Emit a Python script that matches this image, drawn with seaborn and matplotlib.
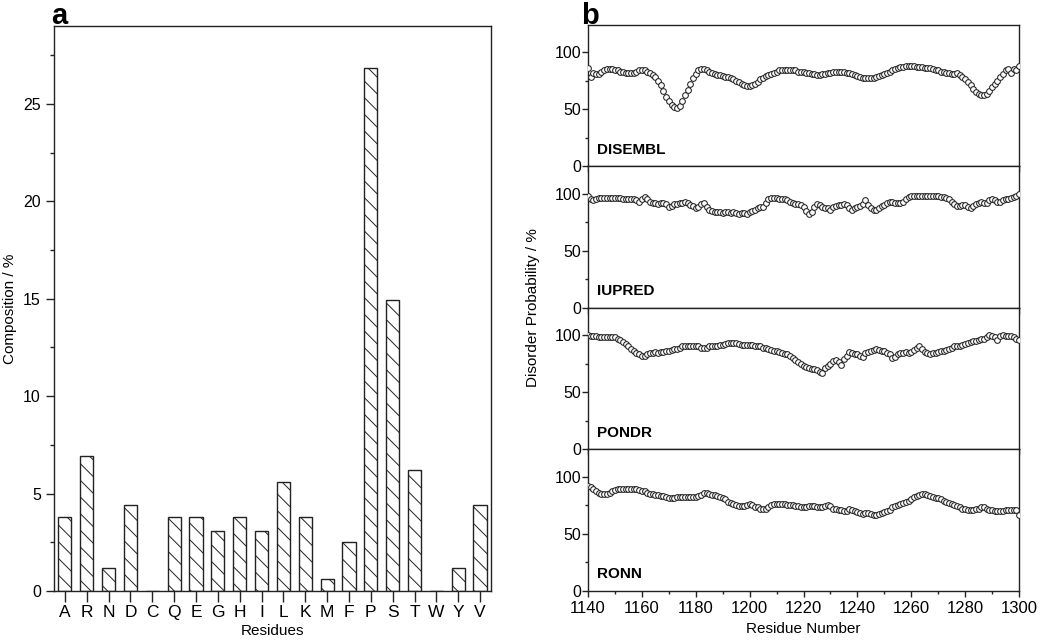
import numpy as np
import pandas as pd
import matplotlib
matplotlib.use("Agg")
import matplotlib.pyplot as plt
from matplotlib.ticker import MultipleLocator
import seaborn as sns

# ---------------- data ----------------
residues = ["A", "R", "N", "D", "C", "Q", "E", "G", "H", "I",
            "L", "K", "M", "F", "P", "S", "T", "W", "Y", "V"]
composition = [3.78, 6.93, 1.17, 4.40, 0.0, 3.78, 3.78, 3.07, 3.78, 3.07,
               5.59, 3.78, 0.60, 2.50, 26.83, 14.96, 6.22, 0.0, 1.17, 4.40]

residue_start = 1140
residue_end = 1300

disembl = [86, 78, 82, 81, 81, 83, 84, 85, 85, 85,
           84, 84, 83, 83, 82, 82, 82, 82, 83, 84,
           84, 84, 83, 82, 80, 78, 75, 71, 66, 61,
           57, 54, 52, 51, 53, 57, 62, 67, 72, 77,
           81, 84, 85, 85, 84, 83, 82, 81, 80, 80,
           79, 78, 78, 77, 76, 75, 74, 72, 71, 70,
           70, 71, 72, 74, 76, 77, 79, 80, 81, 82,
           83, 84, 84, 84, 84, 84, 84, 84, 83, 83,
           83, 82, 82, 81, 81, 80, 80, 81, 81, 82,
           82, 83, 83, 83, 83, 83, 82, 82, 81, 80,
           79, 78, 77, 77, 77, 77, 77, 78, 79, 80,
           81, 82, 83, 84, 85, 86, 87, 87, 88, 88,
           88, 88, 87, 87, 87, 86, 86, 86, 85, 84,
           84, 83, 83, 82, 82, 81, 81, 82, 80, 78,
           76, 74, 71, 68, 65, 63, 62, 62, 63, 66,
           69, 72, 75, 78, 81, 84, 85, 82, 85, 84,
           88]

iupred = [98, 95, 94, 95, 96, 96, 96, 96, 96, 96,
          96, 96, 96, 95, 95, 95, 95, 95, 94, 93,
          95, 97, 95, 93, 92, 92, 91, 92, 92, 91,
          88, 89, 91, 91, 92, 92, 93, 92, 90, 89,
          87, 88, 91, 92, 88, 86, 85, 84, 84, 84,
          83, 84, 84, 83, 84, 83, 82, 83, 83, 82,
          84, 85, 86, 87, 88, 88, 92, 95, 96, 96,
          96, 95, 95, 95, 94, 93, 92, 91, 91, 90,
          88, 85, 82, 84, 88, 91, 90, 88, 87, 87,
          86, 88, 89, 90, 90, 91, 90, 87, 86, 87,
          88, 89, 91, 94, 90, 87, 86, 86, 87, 89,
          90, 92, 93, 93, 92, 92, 92, 93, 95, 97,
          98, 98, 98, 98, 98, 98, 98, 98, 98, 98,
          98, 97, 97, 96, 95, 93, 91, 89, 89, 90,
          90, 88, 87, 89, 91, 92, 93, 92, 92, 94,
          95, 94, 93, 93, 94, 95, 95, 96, 97, 98,
          100]

pondr = [100, 99, 99, 99, 98, 98, 98, 98, 98, 98,
         98, 97, 96, 94, 92, 90, 88, 86, 84, 83,
         82, 82, 83, 84, 84, 85, 84, 85, 85, 86,
         86, 87, 88, 88, 89, 90, 90, 90, 90, 90,
         90, 90, 89, 89, 89, 90, 90, 90, 90, 91,
         91, 92, 93, 93, 93, 93, 92, 91, 91, 91,
         91, 91, 90, 90, 90, 89, 89, 88, 87, 86,
         86, 85, 84, 83, 83, 82, 80, 78, 76, 75,
         73, 72, 71, 70, 70, 69, 68, 67, 71, 73,
         75, 77, 78, 76, 74, 79, 82, 85, 84, 83,
         83, 82, 81, 84, 85, 86, 87, 88, 87, 86,
         86, 84, 83, 80, 81, 83, 84, 84, 85, 84,
         85, 87, 89, 90, 88, 85, 84, 83, 84, 84,
         85, 86, 86, 87, 88, 89, 90, 90, 90, 91,
         92, 93, 94, 95, 95, 96, 97, 97, 98, 100,
         99, 98, 96, 99, 100, 99, 99, 99, 98, 97,
         96]

ronn = [92, 91, 89, 87, 86, 85, 85, 85, 86, 87,
        88, 89, 89, 89, 89, 89, 89, 89, 89, 88,
        87, 87, 86, 85, 85, 84, 84, 83, 83, 82,
        81, 81, 81, 82, 82, 82, 82, 82, 82, 82,
        82, 83, 84, 86, 86, 85, 84, 84, 83, 82,
        81, 80, 78, 77, 76, 75, 74, 74, 74, 75,
        76, 75, 73, 73, 72, 72, 72, 73, 75, 76,
        76, 76, 76, 76, 75, 75, 75, 74, 74, 73,
        73, 73, 74, 74, 74, 73, 73, 73, 74, 75,
        74, 72, 72, 71, 71, 70, 70, 72, 71, 70,
        69, 68, 67, 68, 68, 67, 66, 66, 67, 68,
        69, 70, 71, 73, 74, 75, 76, 77, 78, 79,
        80, 82, 83, 84, 85, 85, 84, 83, 82, 81,
        81, 80, 79, 78, 77, 76, 75, 74, 73, 72,
        72, 71, 71, 71, 72, 72, 73, 73, 72, 71,
        71, 70, 70, 70, 70, 71, 71, 71, 71, 71,
        66]

methods = ["DISEMBL", "IUPRED", "PONDR", "RONN"]
series = [disembl, iupred, pondr, ronn]

# ---------------- style ----------------
sns.set_style("ticks")
plt.rcParams["font.family"] = ["Liberation Sans", "DejaVu Sans"]
plt.rcParams["axes.linewidth"] = 1.0
plt.rcParams["hatch.linewidth"] = 0.7
plt.rcParams["hatch.color"] = "#333333"
plt.rcParams["text.color"] = "black"
plt.rcParams["axes.labelcolor"] = "black"
plt.rcParams["xtick.color"] = "#222222"
plt.rcParams["ytick.color"] = "#222222"
plt.rcParams["xtick.labelcolor"] = "black"
plt.rcParams["ytick.labelcolor"] = "black"

fig = plt.figure(figsize=(10.5, 6.44), dpi=100)

# ---------------- panel a ----------------
axa = fig.add_axes([0.0514, 0.0823, 0.4162, 0.8773])
dfa = pd.DataFrame({"Residue": residues, "Composition": composition})
sns.barplot(data=dfa, x="Residue", y="Composition", order=residues,
            color="white", edgecolor="#222222", linewidth=1.0, width=0.6,
            ax=axa)
for p in axa.patches:
    p.set_hatch("\\\\")
    p.set_facecolor("white")
axa.set_xlim(-0.5, 19.5)
axa.set_ylim(0, 29)
axa.yaxis.set_major_locator(MultipleLocator(5))
axa.yaxis.set_minor_locator(MultipleLocator(2.5))
axa.tick_params(axis="y", which="major", length=6, width=1, labelsize=11.5, direction="out")
axa.tick_params(axis="y", which="minor", length=3, width=1, direction="out")
axa.tick_params(axis="x", which="major", length=8, width=1, labelsize=12.5, direction="out", pad=2)
axa.set_xlabel("Residues", fontsize=11, labelpad=3)
axa.set_ylabel("Composition / %", fontsize=11, labelpad=4)
for s in axa.spines.values():
    s.set_visible(True)
    s.set_color("#222222")
fig.text(0.049, 0.962, "a", fontsize=21, fontweight="bold", va="baseline", ha="left")

# ---------------- panel b ----------------
left_b, right_b = 0.56, 0.9705
bottom_b, top_b = 0.0828, 0.9616
h = (top_b - bottom_b) / 4
res_numbers = np.arange(residue_start, residue_end + 1)
axes_b = []
for i, (name, vals) in enumerate(zip(methods, series)):
    ax = fig.add_axes([left_b, top_b - (i + 1) * h, right_b - left_b, h])
    dfb = pd.DataFrame({"Residue Number": res_numbers, "Probability": vals})
    sns.scatterplot(data=dfb, x="Residue Number", y="Probability", ax=ax,
                    marker="o", s=17, color="white", edgecolor="#222222",
                    linewidth=0.75, zorder=3)
    ax.set_xlim(residue_start, residue_end)
    ax.set_ylim(0, 124)
    ax.yaxis.set_major_locator(MultipleLocator(50))
    ax.yaxis.set_minor_locator(MultipleLocator(25))
    ax.xaxis.set_major_locator(MultipleLocator(20))
    ax.xaxis.set_minor_locator(MultipleLocator(10))
    ax.tick_params(axis="y", which="major", length=4, width=1, labelsize=11.5, pad=1)
    ax.tick_params(axis="y", which="minor", length=2.5, width=1)
    ax.tick_params(axis="x", which="major", length=4, width=1, labelsize=12)
    ax.tick_params(axis="x", which="minor", length=2.5, width=1)
    ax.set_ylabel("")
    ax.set_xlabel("")
    for s in ax.spines.values():
        s.set_visible(True)
        s.set_color("#222222")
    ax.text(1143.2, 11, name, fontsize=11, fontweight="bold", ha="left", va="baseline")
    if i < 3:
        ax.tick_params(axis="x", labelbottom=False)
    else:
        ax.set_xlabel("Residue Number", fontsize=11, labelpad=4)
    axes_b.append(ax)

fig.text(0.508, 0.522, "Disorder Probability / %", rotation=90, fontsize=11,
         ha="center", va="center")
fig.text(0.553, 0.962, "b", fontsize=21, fontweight="bold", va="baseline", ha="left")

fig.savefig("out.png", dpi=100)
